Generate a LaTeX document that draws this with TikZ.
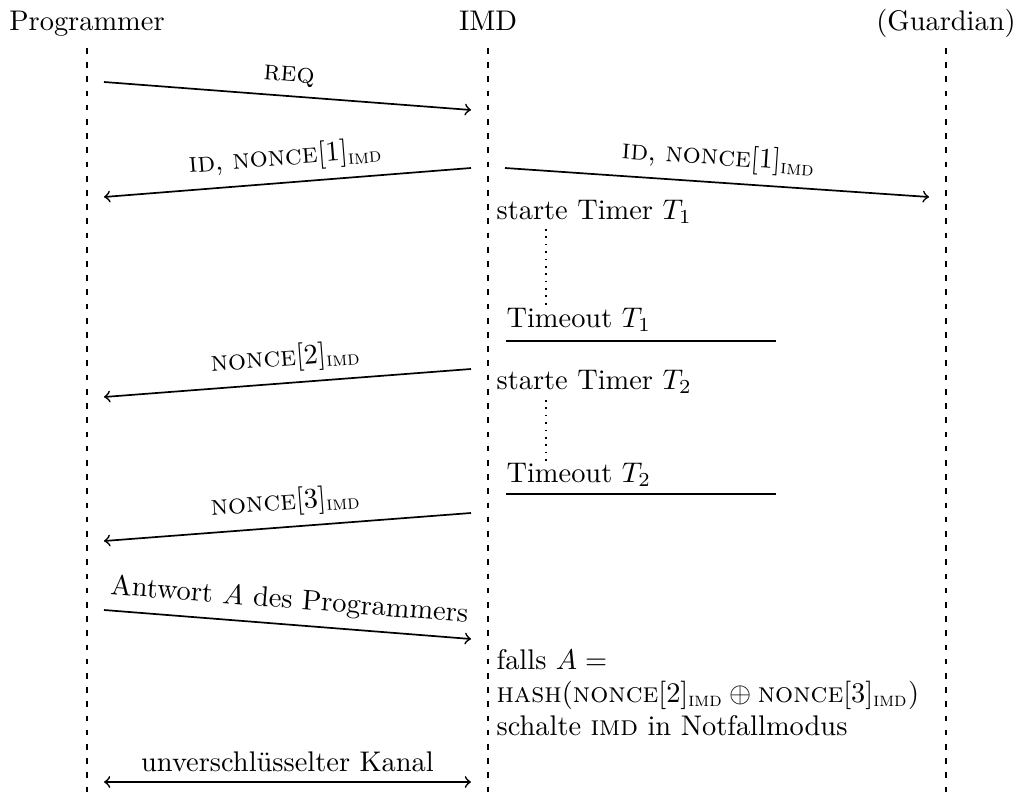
\documentclass[tikz,border=0pt]{standalone}
\usepackage{amsmath}
\newcommand{\imdsub}{\ensuremath{_{\textsc{imd}}}}
\begin{document}
\begin{tikzpicture}[x=0.352pt, y=-0.352pt,
  head/.style={anchor=base, inner sep=0pt},
  life/.style={dash pattern=on 2pt off 3pt, line width=0.4pt},
  msg/.style={semithick, ->},
  lbl/.style={midway, sloped, above},
  note/.style={anchor=base west, inner sep=0pt},
  tick/.style={semithick},
  wait/.style={semithick, dotted}]
\useasboundingbox (0,0) rectangle (1017,798);

% participants
\node[head] (prog)  at (87,31)  {Programmer};
\node[head] (imd)   at (488,31) {IMD};
\node[head] (guard) at (946,31) {(Guardian)};

% lifelines
\coordinate (top) at (0,48);
\coordinate (bot) at (0,798);
\foreach \n in {prog,imd,guard}
  \draw[life] (\n |- top) -- (\n |- bot);

% request
\coordinate (reqA) at (104,82);
\coordinate (reqB) at (471,110);
\draw[msg] (reqA) -- node[lbl] {\textsc{req}} (reqB);

% identification and first nonce
\coordinate (idA) at (471,168);
\coordinate (idB) at (104,197);
\draw[msg] (idA) -- node[lbl] {\textsc{id}, \textsc{nonce}[1]\imdsub} (idB);
\coordinate (gdA) at (505,168);
\coordinate (gdB) at (929,197);
\draw[msg] (gdA) -- node[lbl] {\textsc{id}, \textsc{nonce}[1]\imdsub} (gdB);

% first timer
\node[note] (st1) at (496,219) {starte Timer $T_1$};
\coordinate (w1a) at (546,229);
\coordinate (w1b) at (546,305);
\draw[wait] (w1a) -- (w1b);
\node[note] (to1) at (506,327) {Timeout $T_1$};
\coordinate (t1a) at (506,341);
\coordinate (t1b) at (776,341);
\draw[tick] (t1a) -- (t1b);

% second nonce
\coordinate (n2A) at (471,369);
\coordinate (n2B) at (104,397);
\draw[msg] (n2A) -- node[lbl] {\textsc{nonce}[2]\imdsub} (n2B);

% second timer
\node[note] (st2) at (496,389) {starte Timer $T_2$};
\coordinate (w2a) at (546,400);
\coordinate (w2b) at (546,462);
\draw[wait] (w2a) -- (w2b);
\node[note] (to2) at (506,482) {Timeout $T_2$};
\coordinate (t2a) at (506,494);
\coordinate (t2b) at (776,494);
\draw[tick] (t2a) -- (t2b);

% third nonce
\coordinate (n3A) at (471,513);
\coordinate (n3B) at (104,541);
\draw[msg] (n3A) -- node[lbl] {\textsc{nonce}[3]\imdsub} (n3B);

% programmer's answer
\coordinate (ansA) at (104,610);
\coordinate (ansB) at (471,639);
\draw[msg] (ansA) -- node[lbl] {Antwort $A$ des Programmers} (ansB);

% check on the device
\node[note] (chk1) at (496,669) {falls $A=$};
\node[note] (chk2) at (496,702) {$\textsc{hash}(\textsc{nonce}[2]_{\textsc{imd}}\oplus\textsc{nonce}[3]_{\textsc{imd}})$};
\node[note] (chk3) at (496,735) {schalte \textsc{imd} in Notfallmodus};

% open channel
\coordinate (chA) at (104,782);
\coordinate (chB) at (471,782);
\draw[semithick, <->] (chA) -- node[above] {unverschlüsselter Kanal} (chB);
\end{tikzpicture}
\end{document}
